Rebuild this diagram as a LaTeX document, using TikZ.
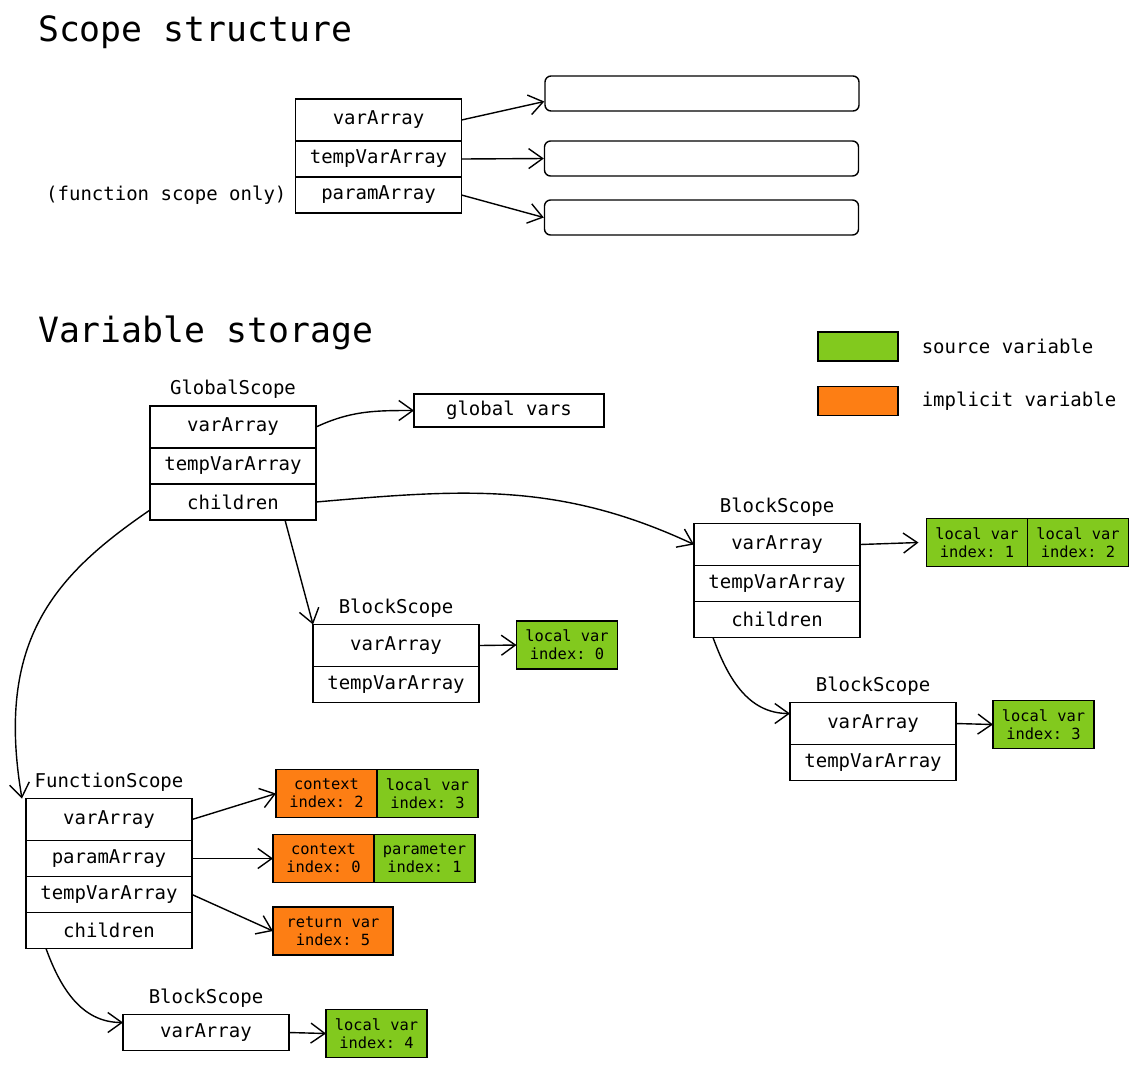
\documentclass[tikz,border=0pt]{standalone}
\usepackage{fontspec}
\setmonofont{DejaVu Sans Mono}
\usetikzlibrary{arrows.meta,positioning}
\definecolor{srcFill}{HTML}{82C91E}
\definecolor{impFill}{HTML}{FD7E14}
\newcommand\fieldfont{\ttfamily\fontsize{9.5}{11}\selectfont}
\newcommand\cellfont{\ttfamily\fontsize{7.7}{9}\selectfont}
\newcommand\titlefont{\ttfamily\fontsize{17.4}{20}\selectfont}
\tikzset{
  font=\fieldfont,
  field/.style ={draw, minimum width=83pt, minimum height=18pt, outer sep=0pt, inner sep=2pt, line width=0.7pt},
  head/.style  ={field, minimum height=21pt},
  cell/.style  ={draw, align=center, font=\cellfont, minimum width=50.5pt, minimum height=24pt, inner sep=1pt, outer sep=0pt, line width=0.7pt},
  src/.style   ={cell, fill=srcFill},
  imp/.style   ={cell, fill=impFill},
  slot/.style  ={draw, rounded corners=3pt, minimum width=157pt, minimum height=17.5pt, line width=0.7pt},
  key/.style   ={draw, minimum width=40pt, minimum height=14.5pt, line width=0.7pt},
  arr/.style   ={-{Straight Barb[length=7pt,width=10pt]}, line width=0.7pt},
  title/.style ={anchor=west, font=\titlefont},
}
\begin{document}
\begin{tikzpicture}[x=0.5pt,y=-0.5pt]
  \useasboundingbox (0,0) rectangle (1139,1067);

  % scope structure
  \node[title] (t1) at (31,32) {Scope structure};
  \node[head] (sa-va) at (378.5,120) {varArray};
  \node[field, below=0pt of sa-va] (sa-tv) {tempVarArray};
  \node[field, below=0pt of sa-tv] (sa-pa) {paramArray};
  \node[left=1pt of sa-pa] (fso) {(function scope only)};
  \node[slot] (slot1) at (702,93.5)  {};
  \node[slot] (slot2) at (701.5,158.5) {};
  \node[slot] (slot3) at (701.5,217.5) {};
  \draw[arr] (sa-va.east) -- ([yshift=-4pt]slot1.west);
  \draw[arr] (sa-tv.east) -- (slot2.west);
  \draw[arr] (sa-pa.east) -- (slot3.west);

  % variable storage + legend
  \node[title] (t2) at (31,333) {Variable storage};
  \node[key, fill=srcFill] (k-src) at (858,346.5) {};
  \node[right=8pt of k-src] (k-src-txt) {source variable};
  \node[key, fill=impFill] (k-imp) at (858,401) {};
  \node[right=8pt of k-imp] (k-imp-txt) {implicit variable};

  % global scope
  \node[head] (gs-va) at (233,427) {varArray};
  \node[field, below=0pt of gs-va] (gs-tv) {tempVarArray};
  \node[field, below=0pt of gs-tv] (gs-ch) {children};
  \node[above=0pt of gs-va] (gs-name) {GlobalScope};
  \node[field, minimum width=95pt, minimum height=16.5pt] (gv) at (509,410.5) {global vars};
  \draw[arr] (gs-va.east) to[out=25,in=180] (gv.west);

  % block scope (under global)
  \node[head] (bs1-va) at (396,645.5) {varArray};
  \node[field, below=0pt of bs1-va] (bs1-tv) {tempVarArray};
  \node[above=0pt of bs1-va] (bs1-name) {BlockScope};
  \node[src] (lv0) at (567,645) {local var\\index: 0};
  \draw[arr] ([xshift=26pt]gs-ch.south) -- (bs1-va.north west);
  \draw[arr] (bs1-va.east) -- (lv0.west);

  % block scope (right)
  \node[head] (bs2-va) at (777,544.5) {varArray};
  \node[field, below=0pt of bs2-va] (bs2-tv) {tempVarArray};
  \node[field, below=0pt of bs2-tv] (bs2-ch) {children};
  \node[above=0pt of bs2-va] (bs2-name) {BlockScope};
  \node[src] (lv1) at (977,542.5) {local var\\index: 1};
  \node[src, right=0pt of lv1] (lv2) {local var\\index: 2};
  \draw[arr] (gs-ch.east) to[out=5,in=155] (bs2-va.west);
  \draw[arr] (bs2-va.east) -- ([xshift=-4pt]lv1.west);

  \node[head] (bs3-va) at (873,723.5) {varArray};
  \node[field, below=0pt of bs3-va] (bs3-tv) {tempVarArray};
  \node[above=0pt of bs3-va] (bs3-name) {BlockScope};
  \node[src] (lv3) at (1043.5,724.5) {local var\\index: 3};
  \draw[arr] ([xshift=-32pt]bs2-ch.south) to[out=-70,in=180] ([yshift=5pt]bs3-va.west);
  \draw[arr] (bs3-va.east) -- (lv3.west);

  % function scope
  \node[head] (fs-va) at (109,819.5) {varArray};
  \node[field, below=0pt of fs-va] (fs-pa) {paramArray};
  \node[field, below=0pt of fs-pa] (fs-tv) {tempVarArray};
  \node[field, below=0pt of fs-tv] (fs-ch) {children};
  \node[above=0pt of fs-va] (fs-name) {FunctionScope};
  \draw[arr] ([yshift=-4pt]gs-ch.west) .. controls (55,575) and (-5,640) .. ([xshift=-2pt]fs-va.north west);

  \node[imp] (ctx2) at (326.5,793.5) {context\\index: 2};
  \node[src, right=0pt of ctx2] (lv3b) {local var\\index: 3};
  \node[imp] (ctx0) at (323.5,858.5) {context\\index: 0};
  \node[src, right=0pt of ctx0] (par1) {parameter\\index: 1};
  \node[imp, minimum width=60pt] (ret) at (333,931) {return var\\index: 5};
  \draw[arr] (fs-va.east) -- (ctx2.west);
  \draw[arr] (fs-pa.east) -- (ctx0.west);
  \draw[arr] (fs-tv.east) -- (ret.west);

  % block scope (under function)
  \node[field] (bs4-va) at (206,1032.5) {varArray};
  \node[above=0pt of bs4-va] (bs4-name) {BlockScope};
  \node[src] (lv4) at (376.5,1033.5) {local var\\index: 4};
  \draw[arr] ([xshift=-31.5pt]fs-ch.south) to[out=-70,in=180] ([yshift=5pt]bs4-va.west);
  \draw[arr] (bs4-va.east) -- (lv4.west);
\end{tikzpicture}
\end{document}
